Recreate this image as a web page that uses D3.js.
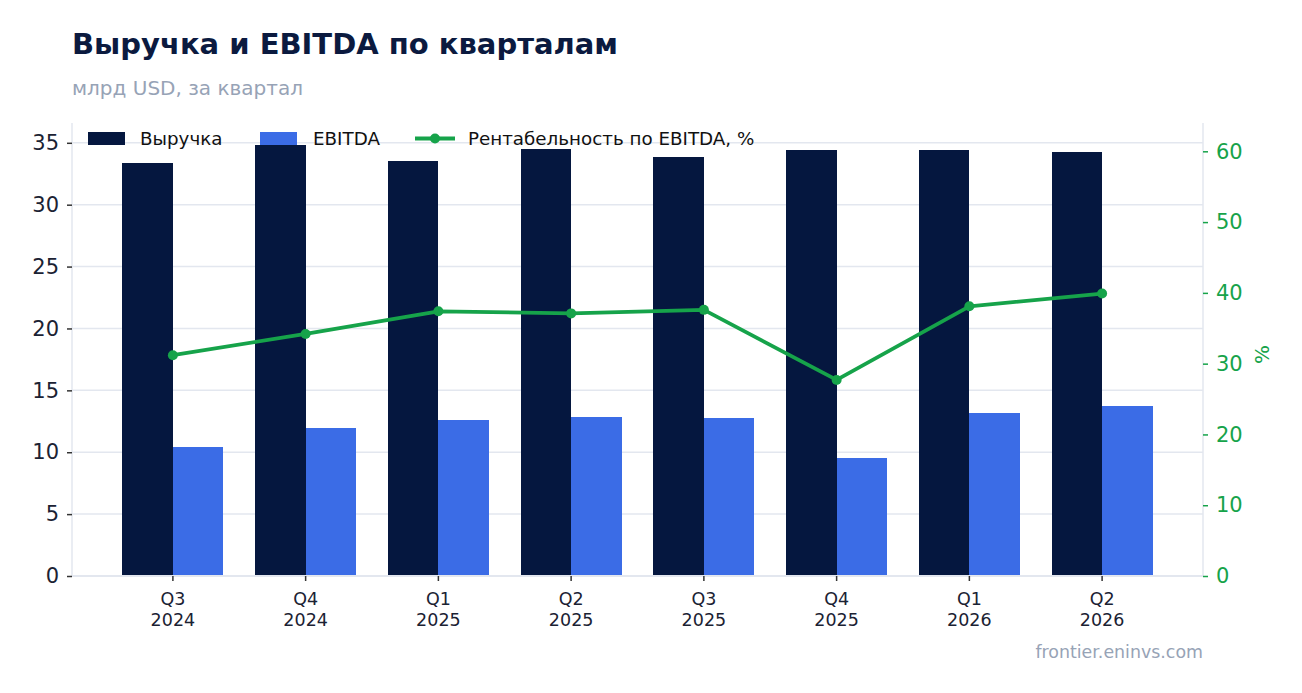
<!DOCTYPE html>
<html>
<head>
<meta charset="utf-8">
<script src="https://cdn.jsdelivr.net/npm/d3@7"></script>
<style>
  body { margin: 0; background: #fff; font-family: 'DejaVu Sans', sans-serif; }
</style>
</head>
<body>
<div id="chart"></div>
<script>
const quarters = ['Q3', 'Q4', 'Q1', 'Q2', 'Q3', 'Q4', 'Q1', 'Q2']
const years = ['2024', '2024', '2025', '2025', '2025', '2025', '2026', '2026']
const revenue = [33.38, 34.84, 33.55, 34.52, 33.87, 34.43, 34.43, 34.27]
const ebitda = [10.43, 11.96, 12.61, 12.85, 12.77, 9.54, 13.18, 13.74]
const marginPct = [31.2, 34.2, 37.4, 37.1, 37.6, 27.7, 38.1, 39.9]
const leftTicks = [0, 5, 10, 15, 20, 25, 30, 35]
const rightTicks = [0, 10, 20, 30, 40, 50, 60]

const W = 1302
const H = 693
const margin = { top: 123, right: 99, bottom: 117, left: 72 }
const width = W - margin.left - margin.right
const height = H - margin.top - margin.bottom

const navy = '#05173f'
const blue = '#3b6ce6'
const green = '#16a34a'
const ink = '#1b2233'
const grey = '#97a3b6'
const light = '#e3e7ef'

const svg = d3.select('#chart')
  .append('svg')
  .attr('width', W)
  .attr('height', H)

svg.append('text')
  .attr('x', 72).attr('y', 54)
  .attr('font-size', 29).attr('font-weight', 'bold')
  .attr('fill', '#0b1a3f')
  .text('Выручка и EBITDA по кварталам')

svg.append('text')
  .attr('x', 72).attr('y', 95)
  .attr('font-size', 20)
  .attr('fill', grey)
  .text('млрд USD, за квартал')

svg.append('text')
  .attr('x', 1203).attr('y', 658)
  .attr('text-anchor', 'end')
  .attr('font-size', 17.4)
  .attr('fill', grey)
  .text('frontier.eninvs.com')

const g = svg.append('g')
  .attr('transform', 'translate(' + margin.left + ',' + margin.top + ')')

const idx = quarters.map((d, i) => i)

const x = d3.scaleBand()
  .domain(idx)
  .range([0, width])
  .paddingInner(0.24)
  .paddingOuter(0.38)

const xSub = d3.scaleBand()
  .domain(['rev', 'ebitda'])
  .range([0, x.bandwidth()])

const yLeft = d3.scaleLinear().domain([0, 36.6]).range([height, 0])
const yRight = d3.scaleLinear().domain([0, 64]).range([height, 0])

// grid
g.selectAll('.grid')
  .data(leftTicks.filter(d => d > 0))
  .enter()
  .append('line')
  .attr('x1', 0).attr('x2', width)
  .attr('y1', d => yLeft(d)).attr('y2', d => yLeft(d))
  .attr('stroke', light)
  .attr('stroke-width', 1.5)

// bars, snapped to whole pixels so the pair meets without a seam
const revX = i => Math.round(x(i) + xSub('rev'))
const ebX = i => Math.round(x(i) + xSub('ebitda'))
const ebEnd = i => Math.round(x(i) + x.bandwidth())

g.selectAll('.rev')
  .data(revenue)
  .enter()
  .append('rect')
  .attr('x', (d, i) => revX(i))
  .attr('y', d => yLeft(d))
  .attr('width', (d, i) => ebX(i) - revX(i))
  .attr('height', d => height - yLeft(d))
  .attr('fill', navy)
  .attr('shape-rendering', 'crispEdges')

g.selectAll('.ebitda')
  .data(ebitda)
  .enter()
  .append('rect')
  .attr('x', (d, i) => ebX(i))
  .attr('y', d => yLeft(d))
  .attr('width', (d, i) => ebEnd(i) - ebX(i))
  .attr('height', d => height - yLeft(d))
  .attr('fill', blue)
  .attr('shape-rendering', 'crispEdges')

// margin line
const cx = i => x(i) + x.bandwidth() / 2
const line = d3.line()
  .x((d, i) => cx(i))
  .y(d => yRight(d))

g.append('path')
  .datum(marginPct)
  .attr('d', line)
  .attr('fill', 'none')
  .attr('stroke', green)
  .attr('stroke-width', 3.8)
  .attr('stroke-linejoin', 'round')

g.selectAll('.dot')
  .data(marginPct)
  .enter()
  .append('circle')
  .attr('cx', (d, i) => cx(i))
  .attr('cy', d => yRight(d))
  .attr('r', 5)
  .attr('fill', green)

// axes
const yAxisL = d3.axisLeft(yLeft).tickValues(leftTicks).tickSize(5).tickPadding(8)
const yAxisR = d3.axisRight(yRight).tickValues(rightTicks).tickSize(5).tickPadding(8)
const xAxis = d3.axisBottom(x).tickSize(5).tickFormat(() => '')

const gl = g.append('g').call(yAxisL)
gl.select('.domain').attr('stroke', light).attr('stroke-width', 1.5).attr('d', 'M0,0V' + height)
gl.selectAll('.tick line').attr('stroke', '#333').attr('stroke-width', 1.5)
gl.selectAll('.tick text').attr('font-size', 21).attr('fill', ink).attr('font-family', 'DejaVu Sans')

const gr = g.append('g').attr('transform', 'translate(' + width + ',0)').call(yAxisR)
gr.select('.domain').attr('stroke', light).attr('stroke-width', 1.5).attr('d', 'M0,0V' + height)
gr.selectAll('.tick line').attr('stroke', green).attr('stroke-width', 1.5)
gr.selectAll('.tick text').attr('font-size', 21).attr('fill', green).attr('font-family', 'DejaVu Sans')

const gx = g.append('g').attr('transform', 'translate(0,' + height + ')').call(xAxis)
gx.select('.domain').attr('stroke', light).attr('stroke-width', 2).attr('d', 'M0,0H' + width)
gx.selectAll('.tick line').attr('stroke', '#333').attr('stroke-width', 1.5)
gx.selectAll('.tick').each(function (d) {
  const t = d3.select(this).append('text')
    .attr('fill', ink)
    .attr('font-size', 17.5)
    .attr('font-family', 'DejaVu Sans')
    .attr('text-anchor', 'middle')
  t.append('tspan').attr('x', 0).attr('y', 29).text(quarters[d])
  t.append('tspan').attr('x', 0).attr('y', 50).text(years[d])
})

g.append('text')
  .attr('transform', 'translate(' + (width + 66) + ',' + (height / 2 + 5) + ') rotate(-90)')
  .attr('text-anchor', 'middle')
  .attr('font-size', 20)
  .attr('fill', green)
  .text('%')

// legend
const legend = svg.append('g')
const legendItems = [
  { label: 'Выручка', color: navy, type: 'rect', x: 88, tx: 140 },
  { label: 'EBITDA', color: blue, type: 'rect', x: 260, tx: 313 },
  { label: 'Рентабельность по EBITDA, %', color: green, type: 'line', x: 415, tx: 468 }
]
legendItems.forEach(d => {
  if (d.type === 'rect') {
    legend.append('rect')
      .attr('x', d.x).attr('y', 132)
      .attr('width', 37).attr('height', 13)
      .attr('fill', d.color)
  } else {
    legend.append('line')
      .attr('x1', d.x).attr('x2', d.x + 40)
      .attr('y1', 138.5).attr('y2', 138.5)
      .attr('stroke', d.color).attr('stroke-width', 3.8)
    legend.append('circle')
      .attr('cx', d.x + 20).attr('cy', 138.5).attr('r', 5)
      .attr('fill', d.color)
  }
  legend.append('text')
    .attr('x', d.tx).attr('y', 145)
    .attr('font-size', 18.3)
    .attr('fill', '#111')
    .text(d.label)
})
</script>
</body>
</html>
